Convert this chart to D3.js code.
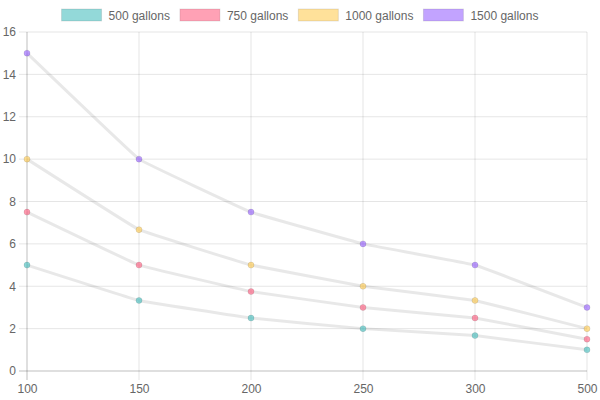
<!DOCTYPE html>
<html>
<head>
<meta charset="utf-8">
<script src="https://cdn.jsdelivr.net/npm/d3@7"></script>
<style>
  body { margin: 0; background: #fff; }
  text { font-family: "Liberation Sans", Arial, sans-serif; }
</style>
</head>
<body>
<svg id="chart" width="600" height="400"></svg>
<script>
// chart data
const categories = ["100", "150", "200", "250", "300", "500"];
const seriesNames = ["500 gallons", "750 gallons", "1000 gallons", "1500 gallons"];
const gallons500 = [5, 3.33, 2.5, 2, 1.67, 1];
const gallons750 = [7.5, 5, 3.75, 3, 2.5, 1.5];
const gallons1000 = [10, 6.67, 5, 4, 3.33, 2];
const gallons1500 = [15, 10, 7.5, 6, 5, 3];
const yTicks = [0, 2, 4, 6, 8, 10, 12, 14, 16];

const seriesValues = [gallons500, gallons750, gallons1000, gallons1500];
const colors = ["75,192,192", "255,99,132", "255,205,86", "153,102,255"];

let margin = {top: 32, right: 13, bottom: 29, left: 27},
    width = 600 - margin.left - margin.right,
    height = 400 - margin.top - margin.bottom;

let svg = d3.select("#chart")
    .append("g")
    .attr("transform", "translate(" + margin.left + "," + margin.top + ")");

let x = d3.scalePoint()
    .domain(categories)
    .range([0, width]);

let y = d3.scaleLinear()
    .domain([0, 16])
    .range([height, 0]);

// grid lines
svg.append("g")
    .selectAll("line")
    .data(yTicks)
    .join("line")
    .attr("x1", -8)
    .attr("x2", width)
    .attr("y1", d => y(d))
    .attr("y2", d => y(d))
    .attr("stroke", d => d == 0 ? "rgba(0,0,0,0.25)" : "rgba(0,0,0,0.1)");

svg.append("g")
    .selectAll("line")
    .data(categories)
    .join("line")
    .attr("x1", d => x(d))
    .attr("x2", d => x(d))
    .attr("y1", 0)
    .attr("y2", height + 9)
    .attr("stroke", (d, i) => i == 0 ? "rgba(0,0,0,0.25)" : "rgba(0,0,0,0.1)");

// axes labels
let yAxis = svg.append("g")
    .call(d3.axisLeft(y).tickValues(yTicks).tickSize(0).tickPadding(11));
yAxis.select(".domain").remove();
yAxis.selectAll("text").attr("fill", "#666").style("font-size", "12px");

let xAxis = svg.append("g")
    .attr("transform", "translate(0," + height + ")")
    .call(d3.axisBottom(x).tickSize(0).tickPadding(13));
xAxis.select(".domain").remove();
xAxis.selectAll("text").attr("fill", "#666").style("font-size", "12px");

// lines, only a slight bend like the original
let line = d3.line()
    .x((d, i) => x(categories[i]))
    .y(d => y(d))
    .curve(d3.curveCardinal.tension(0.85));

seriesValues.forEach((vals, s) => {
    svg.append("path")
        .datum(vals)
        .attr("d", line)
        .attr("fill", "none")
        .attr("stroke", "rgba(0,0,0,0.09)")
        .attr("stroke-width", 3);
});

seriesValues.forEach((vals, s) => {
    svg.append("g")
        .selectAll("circle")
        .data(vals)
        .join("circle")
        .attr("cx", (d, i) => x(categories[i]))
        .attr("cy", d => y(d))
        .attr("r", 3)
        .attr("fill", "rgba(" + colors[s] + ",0.65)")
        .attr("stroke", "rgba(0,0,0,0.1)")
        .attr("stroke-width", 1);
});

// legend
let legend = d3.select("#chart").append("g");
let items = legend.selectAll("g")
    .data(seriesNames)
    .join("g");
items.append("rect")
    .attr("y", 9)
    .attr("width", 40)
    .attr("height", 12)
    .attr("fill", (d, i) => "rgba(" + colors[i] + ",0.6)")
    .attr("stroke", "rgba(0,0,0,0.1)")
    .attr("stroke-width", 1);
items.append("text")
    .attr("x", 47)
    .attr("y", 19.5)
    .attr("fill", "#666")
    .style("font-size", "12px")
    .text(d => d);

let xpos = 0;
items.each(function() {
    let w = this.querySelector("text").getComputedTextLength() + 47;
    d3.select(this).attr("transform", "translate(" + xpos + ",0)");
    xpos += w + 10;
});
let total = xpos - 10;
legend.attr("transform", "translate(" + ((600 - total) / 2) + ",0)");
</script>
</body>
</html>
